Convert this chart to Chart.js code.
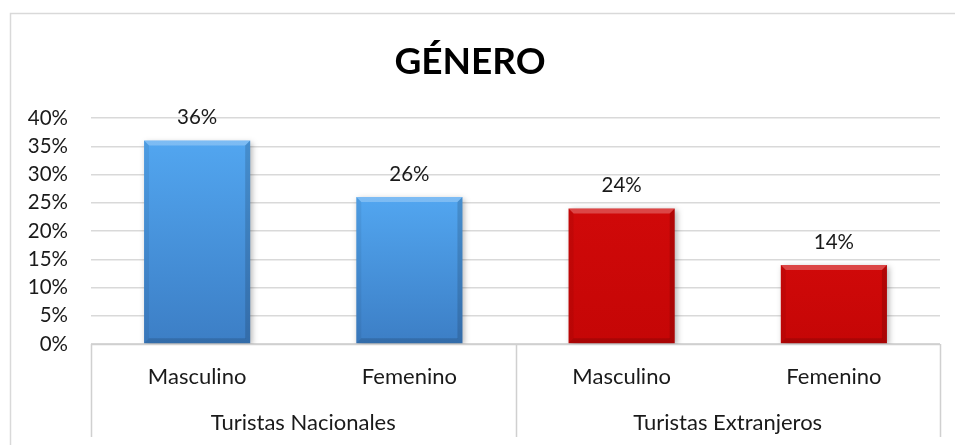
<!DOCTYPE html>
<html><head><meta charset="utf-8">
<script src="https://cdn.jsdelivr.net/npm/chart.js@4"></script>
<style>html,body{margin:0;padding:0;background:#fff}</style>
</head><body>
<canvas id="c" width="955" height="445" style="width:955px;height:445px;display:block"></canvas>
<script>
const titleText = 'GÉNERO';
const categories = ['Masculino', 'Femenino', 'Masculino', 'Femenino'];
const groups = ['Turistas Nacionales', 'Turistas Extranjeros'];
const values = [36, 26, 24, 14];
const barGroup = [0, 0, 1, 1];
const yTicksMax = 40;
const yTickStep = 5;

const FONT = 'Lato';
const groupColors = [
  { top: '#52a6f0', bottom: '#3c7ec5' },
  { top: '#d00909', bottom: '#c50606' }
];

const frame = {
  id: 'frame',
  beforeDraw(chart) {
    const ctx = chart.ctx;
    ctx.save();
    ctx.fillStyle = '#fff';
    ctx.fillRect(0, 0, chart.width, chart.height);
    ctx.strokeStyle = '#d9d9d9';
    ctx.lineWidth = 1.5;
    ctx.beginPath();
    ctx.moveTo(10.5, chart.height);
    ctx.lineTo(10.5, 13.5);
    ctx.lineTo(chart.width, 13.5);
    ctx.stroke();
    ctx.restore();
  },
  afterDraw(chart) {
    const ctx = chart.ctx;
    const x = chart.scales.x;
    const area = chart.chartArea;
    const xs = [x.left, (x.getPixelForTick(1) + x.getPixelForTick(2)) / 2, x.right];
    ctx.save();
    ctx.strokeStyle = '#d0d0d0';
    ctx.lineWidth = 1.5;
    ctx.beginPath();
    xs.forEach(px => { ctx.moveTo(Math.round(px) + 0.5, area.bottom); ctx.lineTo(Math.round(px) + 0.5, area.bottom + 93); });
    ctx.moveTo(x.left, area.bottom + 0.5); ctx.lineTo(x.right, area.bottom + 0.5);
    ctx.stroke();
    ctx.restore();
  }
};

const shadow = {
  id: 'shadow',
  beforeDatasetDraw(chart) {
    const ctx = chart.ctx;
    ctx.save();
    ctx.shadowColor = 'rgba(0,0,0,0.3)';
    ctx.shadowBlur = 6;
    ctx.shadowOffsetX = 2;
    ctx.shadowOffsetY = 2;
  },
  afterDatasetDraw(chart) {
    chart.ctx.restore();
  }
};

const bevel = {
  id: 'bevel',
  afterDatasetsDraw(chart) {
    const ctx = chart.ctx;
    const meta = chart.getDatasetMeta(0);
    meta.data.forEach((bar, i) => {
      const p = bar.getProps(['x', 'y', 'base', 'width'], true);
      const l = p.x - p.width / 2, r = p.x + p.width / 2, t = p.y, b = p.base;
      const s = 5;
      const poly = (pts, color) => {
        ctx.beginPath();
        ctx.moveTo(pts[0][0], pts[0][1]);
        for (let k = 1; k < pts.length; k++) ctx.lineTo(pts[k][0], pts[k][1]);
        ctx.closePath();
        ctx.fillStyle = color;
        ctx.fill();
      };
      ctx.save();
      poly([[l, t], [r, t], [r - s, t + s], [l + s, t + s]], 'rgba(255,255,255,0.25)');
      poly([[l, t], [l + s, t + s], [l + s, b - s], [l, b]], 'rgba(0,0,0,0.06)');
      poly([[r, t], [r - s, t + s], [r - s, b - s], [r, b]], 'rgba(0,0,0,0.14)');
      poly([[l, b], [l + s, b - s], [r - s, b - s], [r, b]], 'rgba(0,0,0,0.14)');
      ctx.restore();

      ctx.save();
      ctx.font = '20.5px ' + FONT;
      ctx.fillStyle = '#1a1a1a';
      ctx.textAlign = 'center';
      ctx.textBaseline = 'middle';
      ctx.fillText(values[i] + '%', p.x, t - 23);
      ctx.restore();
    });
  }
};

new Chart(document.getElementById('c'), {
  type: 'bar',
  data: {
    labels: categories,
    datasets: [{
      data: values,
      borderWidth: 0,
      backgroundColor(context) {
        const chart = context.chart;
        if (!chart.chartArea) return groupColors[barGroup[context.dataIndex]].top;
        const y = chart.scales.y;
        const c = groupColors[barGroup[context.dataIndex]];
        const g = chart.ctx.createLinearGradient(0, y.getPixelForValue(values[context.dataIndex]), 0, y.getPixelForValue(0));
        g.addColorStop(0, c.top);
        g.addColorStop(1, c.bottom);
        return g;
      },
      categoryPercentage: 1,
      barPercentage: 0.5
    }]
  },
  plugins: [frame, shadow, bevel],
  options: {
    responsive: false,
    animation: false,
    layout: { padding: { left: 0, right: 15, top: 0, bottom: 0 } },
    plugins: {
      legend: { display: false },
      tooltip: { enabled: false },
      title: {
        display: true,
        text: titleText,
        color: '#000',
        font: { family: FONT, size: 37, weight: 'bold' },
        padding: { top: 40, bottom: 33.6 }
      }
    },
    scales: {
      x: {
        type: 'category',
        labels: categories,
        weight: 0,
        grid: { display: false, drawTicks: false },
        border: { display: false },
        ticks: { font: { family: FONT, size: 22 }, color: '#1a1a1a', padding: 20, maxRotation: 0 },
        afterFit(s) { s.height = 56; }
      },
      x2: {
        type: 'category',
        labels: groups,
        position: 'bottom',
        offset: true,
        weight: 1,
        grid: { display: false, drawTicks: false },
        border: { display: false },
        ticks: { font: { family: FONT, size: 22 }, color: '#1a1a1a', padding: 10, maxRotation: 0 },
        afterFit(s) { s.height = 45; }
      },
      y: {
        min: 0,
        max: yTicksMax,
        ticks: { stepSize: yTickStep, callback: v => v + '%', font: { family: FONT, size: 20.5 }, color: '#1a1a1a', padding: 23 },
        grid: { color: '#d9d9d9', lineWidth: 1.5, drawTicks: false },
        border: { display: false },
        afterFit(s) { s.width = 91; }
      }
    }
  }
});
</script>
</body></html>
